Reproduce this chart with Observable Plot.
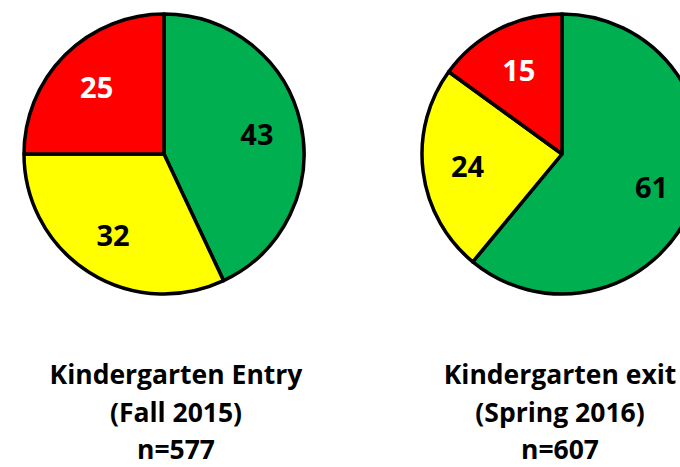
<!DOCTYPE html>
<html><head><meta charset="utf-8">
<script src="https://cdn.jsdelivr.net/npm/d3@7"></script>
<script src="https://cdn.jsdelivr.net/npm/@observablehq/plot@0.6"></script>
<style>
body{margin:0;background:#fff;font-family:"Open Sans",Lato,sans-serif;}
#wrap{position:relative;width:680px;height:467px;overflow:hidden;}
#wrap svg{display:block;}
.cap{position:absolute;top:356px;transform:translateX(-50%);text-align:center;font-weight:700;font-size:26.5px;line-height:37.5px;color:#000;white-space:nowrap;}
</style></head><body><div id="wrap"></div>
<script>
const periods = ["Kindergarten Entry", "Kindergarten exit"];
const subtitles = ["(Fall 2015)", "(Spring 2016)"];
const counts = [577, 607];
const categories = ["Green", "Yellow", "Red"];
const entryValues = [43, 32, 25];
const exitValues = [61, 24, 15];
const colors = ["#00B050", "#FFFF00", "#FF0000"];
const labelColors = ["#000000", "#000000", "#FFFFFF"];

const pies = [
  {period: periods[0], values: entryValues},
  {period: periods[1], values: exitValues}
];

const R = 140;
function pieRender(index, scales, values) {
  const g = d3.create("svg:g");
  for (const i of index) {
    const cx = values.x[i], cy = values.y[i];
    const arcs = d3.pie().sort(null).value(d => d)(pies[i].values);
    const arc = d3.arc().innerRadius(0).outerRadius(R);
    const pg = g.append("g").attr("transform", `translate(${cx},${cy})`);
    pg.selectAll("path").data(arcs).join("path")
      .attr("d", arc)
      .attr("fill", (d, j) => colors[j])
      .attr("stroke", "#000")
      .attr("stroke-width", 3.5)
      .attr("stroke-linejoin", "round");
    pg.selectAll("text").data(arcs).join("text")
      .attr("x", d => Math.sin((d.startAngle + d.endAngle) / 2) * R * 0.68)
      .attr("y", d => -Math.cos((d.startAngle + d.endAngle) / 2) * R * 0.68)
      .attr("text-anchor", "middle")
      .attr("dominant-baseline", "central")
      .attr("font-family", "'Open Sans', Lato, sans-serif")
      .attr("font-weight", 700)
      .attr("font-size", 29)
      .attr("fill", (d, j) => labelColors[j])
      .text(d => d.data);
  }
  return g.node();
}

const chart = Plot.plot({
  width: 680,
  height: 320,
  margin: 0,
  x: {type: "point", domain: periods, range: [164, 562], padding: 0, axis: null},
  y: {domain: [0, 1], range: [154, 154], axis: null},
  marks: [
    Plot.dot(pies, {x: "period", y: () => 0.5, render: pieRender})
  ]
});
const wrap = document.getElementById("wrap");
wrap.appendChild(chart);
const capX = [176, 560];
periods.forEach((p, i) => {
  const d = document.createElement("div");
  d.className = "cap";
  d.style.left = capX[i] + "px";
  d.innerHTML = `${p}<br>${subtitles[i]}<br>n=${counts[i]}`;
  wrap.appendChild(d);
});
</script></body></html>
